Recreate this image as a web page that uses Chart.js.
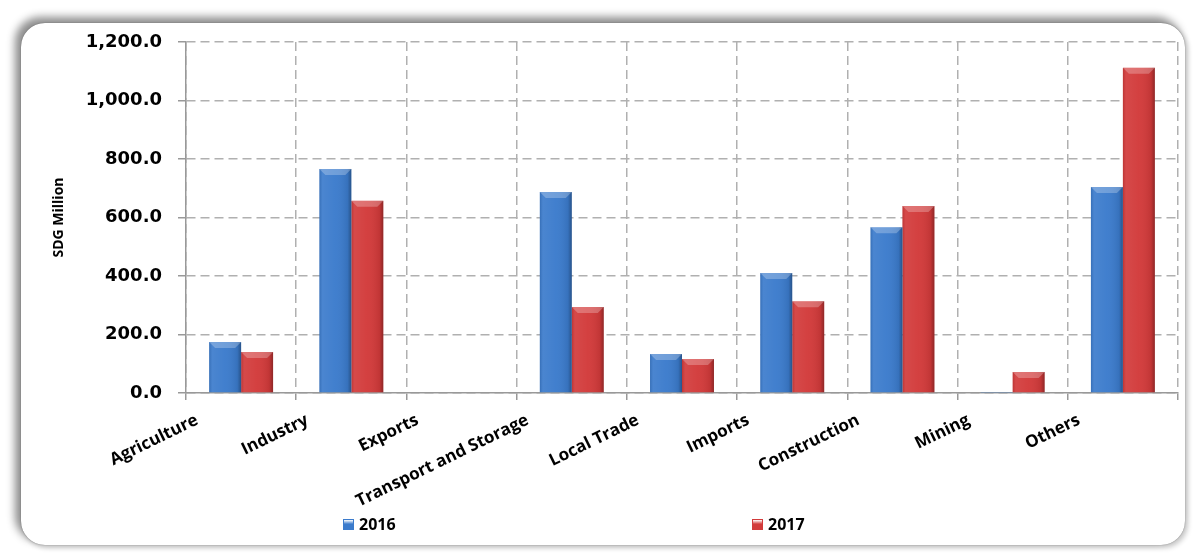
<!DOCTYPE html>
<html>
<head>
<meta charset="utf-8">
<script src="https://cdn.jsdelivr.net/npm/chart.js@4.4.0/dist/chart.umd.min.js"></script>
<style>
  html, body { margin: 0; padding: 0; background: #fff; }
  #wrap { position: relative; width: 1196px; height: 556px; overflow: hidden; }
  #frame {
    position: absolute; left: 21px; top: 23px; width: 1164px; height: 522px;
    border-radius: 24px; background: #fff;
    box-shadow: -5px -5px 9px 1px rgba(0,0,0,0.45), 3px 3px 5px rgba(0,0,0,0.2), 0 0 1px rgba(0,0,0,0.5);
  }
  #myChart { position: absolute; left: 0; top: 0; }
  #legend { position: absolute; top: 513px; left: 0; width: 1196px; height: 20px;
    font: bold 16px "Open Sans", sans-serif; color: #000; }
  .item { position: absolute; display: flex; align-items: center; }
  .box { width: 11px; height: 11px; margin-right: 5px; }
</style>
</head>
<body>
<div id="wrap">
  <div id="frame"></div>
  <canvas id="myChart" width="1196" height="556"></canvas>
  <div id="legend"></div>
</div>
<script>
var categories = ['Agriculture', 'Industry', 'Exports', 'Transport and Storage', 'Local Trade',
  'Imports', 'Construction', 'Mining', 'Others'];
var values2016 = [174, 766, 0, 687, 133, 410, 567, 2, 704];
var values2017 = [140, 657, 0, 294, 116, 314, 639, 72, 1112];
var yTicks = [0, 200, 400, 600, 800, 1000, 1200];

var blue = '#3b7bcc';
var red = '#d23a3a';

// shading on top of each bar: darker edges and a light bevel on the top
var bevelPlugin = {
  id: 'bevel',
  afterDatasetsDraw: function(chart) {
    var ctx = chart.ctx;
    chart.data.datasets.forEach(function(ds, i) {
      var meta = chart.getDatasetMeta(i);
      meta.data.forEach(function(bar) {
        var left = bar.x - bar.width / 2;
        var right = bar.x + bar.width / 2;
        var h = bar.base - bar.y;
        if (h <= 1) return;
        ctx.save();
        var g = ctx.createLinearGradient(left, 0, right, 0);
        g.addColorStop(0, 'rgba(0,0,0,0.10)');
        g.addColorStop(0.1, 'rgba(255,255,255,0.08)');
        g.addColorStop(0.5, 'rgba(255,255,255,0.03)');
        g.addColorStop(0.88, 'rgba(0,0,0,0.08)');
        g.addColorStop(1, 'rgba(0,0,0,0.32)');
        ctx.fillStyle = g;
        ctx.fillRect(left, bar.y, bar.width, h);
        var b = Math.min(6, h);
        ctx.beginPath();
        ctx.moveTo(left, bar.y);
        ctx.lineTo(right, bar.y);
        ctx.lineTo(right - b, bar.y + b);
        ctx.lineTo(left + b, bar.y + b);
        ctx.closePath();
        ctx.fillStyle = 'rgba(255,255,255,0.25)';
        ctx.fill();
        ctx.restore();
      });
    });
  }
};

var ctx = document.getElementById('myChart').getContext('2d');
var chart = new Chart(ctx, {
  type: 'bar',
  data: {
    labels: categories,
    datasets: [
      { label: '2016', data: values2016, backgroundColor: blue },
      { label: '2017', data: values2017, backgroundColor: red }
    ]
  },
  options: {
    responsive: false,
    animation: false,
    layout: { padding: { left: 47, top: 42, right: 18, bottom: 43 } },
    datasets: { bar: { categoryPercentage: 0.58, barPercentage: 1 } },
    plugins: { legend: { display: false }, tooltip: { enabled: false } },
    scales: {
      x: {
        grid: { color: '#b0b0b0', lineWidth: 1.5, tickLength: 7, tickBorderDash: [], tickColor: '#999' },
        border: { dash: [9, 5], color: '#999', width: 1.5 },
        ticks: {
          color: '#000', font: { family: 'Open Sans', size: 17, weight: 'bold' },
          minRotation: 26, maxRotation: 26, padding: 10, labelOffset: -44,
          autoSkip: false
        },
        afterFit: function(scale) { scale.height = 120; }
      },
      y: {
        min: 0, max: 1200,
        afterBuildTicks: function(scale) {
          scale.ticks = yTicks.map(function(v) { return { value: v }; });
        },
        grid: { color: '#b0b0b0', lineWidth: 1.5, tickLength: 8, tickBorderDash: [], tickColor: '#999' },
        border: { dash: [9, 5], color: '#999', width: 1.5 },
        ticks: {
          color: '#000', font: { family: 'DejaVu Sans', size: 18, weight: 'bold' }, padding: 16,
          callback: function(v) {
            return v.toLocaleString('en-US', { minimumFractionDigits: 1, maximumFractionDigits: 1 });
          }
        },
        title: {
          display: true, text: 'SDG Million', color: '#000',
          font: { family: 'Open Sans', size: 14, weight: 'bold' }
        },
        afterFit: function(scale) { scale.width = 139; }
      }
    }
  },
  plugins: [bevelPlugin]
});

// legend built from the datasets
var legendPos = [343, 752];
var legend = document.getElementById('legend');
chart.data.datasets.forEach(function(ds, i) {
  var item = document.createElement('div');
  item.className = 'item';
  item.style.left = legendPos[i] + 'px';
  var box = document.createElement('span');
  box.className = 'box';
  box.style.background = 'linear-gradient(to bottom, #fff 0, ' + ds.backgroundColor + ' 45%, ' + ds.backgroundColor + ' 100%)';
  box.style.border = '1px solid ' + ds.backgroundColor;
  box.style.boxSizing = 'border-box';
  var txt = document.createElement('span');
  txt.textContent = ds.label;
  item.appendChild(box);
  item.appendChild(txt);
  legend.appendChild(item);
});
</script>
</body>
</html>
